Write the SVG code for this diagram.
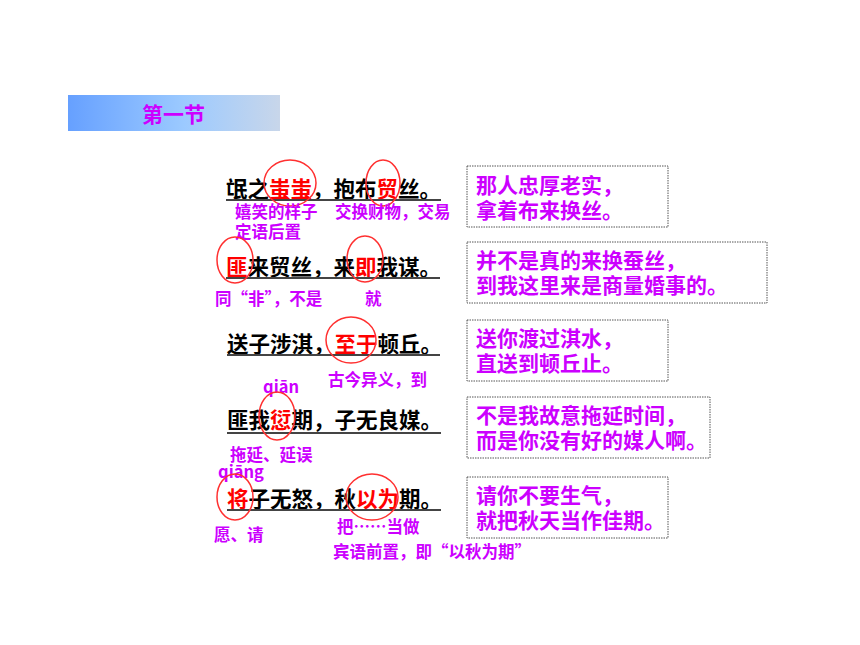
<svg xmlns="http://www.w3.org/2000/svg" width="860" height="645" viewBox="0 0 860 645">
<defs>
<linearGradient id="tg" x1="0" y1="0" x2="1" y2="0">
<stop offset="0" stop-color="#66a0ff"/>
<stop offset="0.55" stop-color="#9ccaff"/>
<stop offset="1" stop-color="#c8d6ea"/>
</linearGradient>
<style>
text{font-family:"Noto Sans CJK SC","Liberation Sans",sans-serif;font-weight:bold}
.s{font-size:21.5px;fill:#000}
.r{fill:#ff0000}
.a{font-size:16.5px;fill:#cc00ff}
.b{font-size:21px;fill:#cc00ff}
.u{stroke:#444;stroke-width:2}
.c{fill:none;stroke:#ff3030;stroke-width:1.5}
.bx{fill:#fff;stroke:#555;stroke-width:1;stroke-dasharray:1.5 1}
</style>
</defs>
<rect width="860" height="645" fill="#fff"/>
<g id="title">
<rect x="68" y="95" width="212" height="36" fill="url(#tg)"/>
<text x="142" y="122" font-size="21" fill="#cc00ff">第一节</text>
</g>
<g id="line1">
<text class="s" x="226" y="197">氓之<tspan class="r">蚩蚩</tspan>，抱布<tspan class="r">贸</tspan>丝。</text>
<line class="u" x1="226" y1="200" x2="441" y2="200"/>
<ellipse class="c" cx="290" cy="183" rx="26" ry="23"/>
<ellipse class="c" cx="383" cy="183" rx="17" ry="23"/>
<text class="a" x="235" y="218">嬉笑的样子</text>
<text class="a" x="235" y="238">定语后置</text>
<text class="a" x="335" y="218">交换财物，交易</text>
</g>
<g id="line2">
<text class="s" x="226" y="275"><tspan class="r">匪</tspan>来贸丝，来<tspan class="r">即</tspan>我谋。</text>
<line class="u" x1="226" y1="278" x2="440" y2="278"/>
<ellipse class="c" cx="235" cy="260" rx="18" ry="23"/>
<ellipse class="c" cx="365" cy="259" rx="18" ry="23"/>
<text class="a" x="215" y="305">同“非”，不是</text>
<text class="a" x="365" y="305">就</text>
</g>
<g id="line3">
<text class="s" x="227" y="352">送子涉淇，<tspan class="r">至于</tspan>顿丘。</text>
<line class="u" x1="227" y1="355" x2="440" y2="355"/>
<ellipse class="c" cx="351" cy="340" rx="25" ry="23"/>
<text class="a" x="328" y="386">古今异义，到</text>
</g>
<g id="line4">
<text class="a" x="263" y="393">qiān</text>
<text class="s" x="227" y="428">匪我<tspan class="r">愆</tspan>期，子无良媒。</text>
<line class="u" x1="227" y1="433" x2="441" y2="433"/>
<ellipse class="c" cx="277" cy="416" rx="18" ry="24"/>
<text class="a" x="230" y="461">拖延、延误</text>
</g>
<g id="line5">
<text class="a" x="218" y="478">qiāng</text>
<text class="s" x="227" y="507"><tspan class="r">将</tspan>子无怒，秋<tspan class="r">以为</tspan>期。</text>
<line class="u" x1="227" y1="510" x2="441" y2="510"/>
<ellipse class="c" cx="235" cy="497" rx="18" ry="23"/>
<ellipse class="c" cx="372" cy="497" rx="26" ry="23"/>
<text class="a" x="214" y="541">愿、请</text>
<text class="a" x="337" y="533">把……当做</text>
<text class="a" x="333" y="558">宾语前置，即“以秋为期”</text>
</g>
<g id="box1">
<rect class="bx" x="467" y="166" width="201" height="61"/>
<text class="b" x="476" y="193">那人忠厚老实，</text>
<text class="b" x="476" y="218">拿着布来换丝。</text>
</g>
<g id="box2">
<rect class="bx" x="467" y="242" width="300" height="61"/>
<text class="b" x="476" y="268">并不是真的来换蚕丝，</text>
<text class="b" x="476" y="293">到我这里来是商量婚事的。</text>
</g>
<g id="box3">
<rect class="bx" x="467" y="320" width="201" height="61"/>
<text class="b" x="476" y="346">送你渡过淇水，</text>
<text class="b" x="476" y="371">直送到顿丘止。</text>
</g>
<g id="box4">
<rect class="bx" x="467" y="397" width="243" height="61"/>
<text class="b" x="476" y="423">不是我故意拖延时间，</text>
<text class="b" x="476" y="448">而是你没有好的媒人啊。</text>
</g>
<g id="box5">
<rect class="bx" x="467" y="477" width="201" height="61"/>
<text class="b" x="476" y="503">请你不要生气，</text>
<text class="b" x="476" y="528">就把秋天当作佳期。</text>
</g>
<g id="connectors"/>
</svg>
